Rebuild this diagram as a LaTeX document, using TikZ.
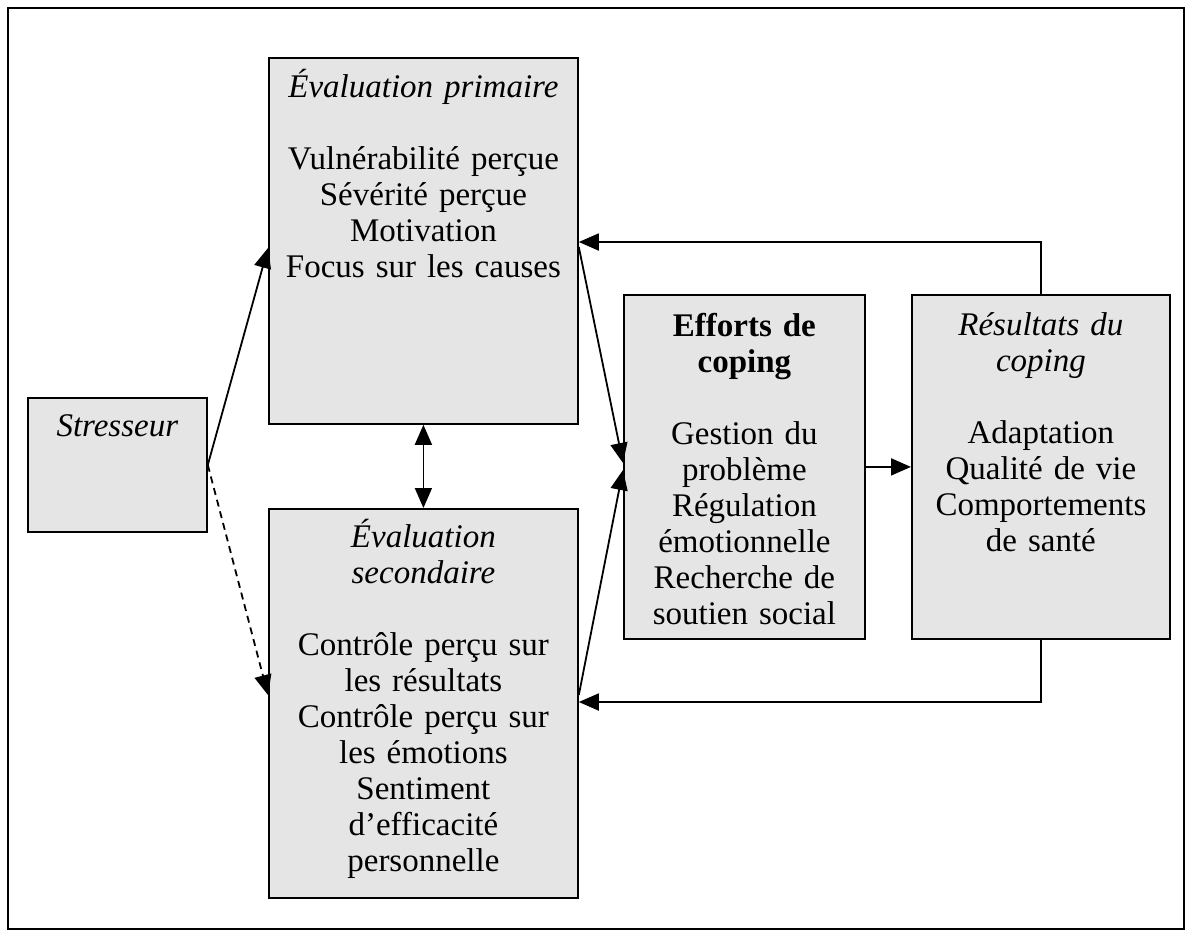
\documentclass[tikz,border=0pt]{standalone}
\usepackage{fontspec}
\setmainfont{Liberation Serif}
\usetikzlibrary{arrows.meta,calc}
\definecolor{grain}{gray}{0.9}
\tikzset{
  Tri/.tip={Triangle[length=20pt,width=17pt]},
  box/.style={draw, line width=1.8pt, fill=grain, inner sep=0pt, anchor=north west},
  boxtext/.style={anchor=base, inner sep=0pt, align=center,
    font=\fontsize{33}{36}\selectfont},
  link/.style={line width=1.8pt, -Tri},
  dlink/.style={line width=1.8pt, Tri-Tri},
  dashlink/.style={line width=1.8pt, -Tri, dash pattern=on 7pt off 5pt},
}
\begin{document}
\begin{tikzpicture}[x=1pt,y=-1pt]
\useasboundingbox (0,0) rectangle (1188,935);
% outer frame
\draw[line width=2.8pt] (8,8) rectangle (1184,929);

% boxes
\node[box, minimum width=179pt, minimum height=134pt] (stress) at (27,397) {};
\node[box, minimum width=309pt, minimum height=366pt] (prim) at (268,57) {};
\node[box, minimum width=309pt, minimum height=389pt] (sec) at (268,508) {};
\node[box, minimum width=241pt, minimum height=344pt] (eff) at (623,294) {};
\node[box, minimum width=258pt, minimum height=344pt] (res) at (911,294) {};

% box contents
\node[boxtext, text width=170pt] (stress-t) at ([yshift=-39pt]stress.north)
  {\textit{Stresseur}};
\node[boxtext, text width=300pt] (prim-t) at ([yshift=-40pt]prim.north)
  {\textit{Évaluation primaire}\\[36pt]Vulnérabilité perçue\\Sévérité perçue\\Motivation\\Focus sur les causes};
\node[boxtext, text width=300pt] (sec-t) at ([yshift=-39pt]sec.north)
  {\textit{Évaluation}\\\textit{secondaire}\\[36pt]Contrôle perçu sur\\les résultats\\Contrôle perçu sur\\les émotions\\Sentiment\\d’efficacité\\personnelle};
\node[boxtext, text width=234pt] (eff-t) at ([yshift=-42pt]eff.north)
  {\textbf{Efforts de}\\\textbf{coping}\\[36pt]Gestion du\\problème\\Régulation\\émotionnelle\\Recherche de\\soutien social};
\node[boxtext, text width=250pt] (res-t) at ([yshift=-41pt]res.north)
  {\textit{Résultats du}\\\textit{coping}\\[36pt]Adaptation\\Qualité de vie\\Comportements\\de santé};

% connectors
\draw[link] (stress.east) -- ([yshift=-191pt]prim.north west);
\draw[dashlink] (stress.east) -- ([yshift=-187pt]sec.north west);
\draw[dlink] (prim.south) -- (sec.north);
\draw[link] ([yshift=-190pt]prim.north east) -- ([yshift=-169pt]eff.north west);
\draw[link] ([yshift=-187pt]sec.north east) -- ([yshift=-176pt]eff.north west);
\draw[link] (eff.east) -- (res.west);
\draw[link] (res.north) |- ([yshift=-185pt]prim.north east);
\draw[link] (res.south) |- ([yshift=-194pt]sec.north east);
\end{tikzpicture}
\end{document}
